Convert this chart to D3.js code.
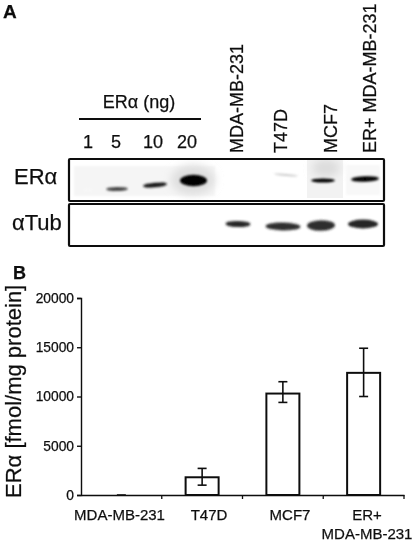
<!DOCTYPE html>
<html>
<head>
<meta charset="utf-8">
<script src="https://cdn.jsdelivr.net/npm/d3@7"></script>
<style>
  html, body { margin: 0; padding: 0; background: #fff; }
  svg { display: block; }
  text { font-family: "Liberation Sans", Arial, sans-serif; fill: #111; stroke: #111; stroke-width: 0.25px; }
</style>
</head>
<body>
<div id="chart"></div>
<script>
// bar chart values (panel B)
var cellLines = ["MDA-MB-231", "T47D", "MCF7", "ER+ MDA-MB-231"];
var erValues = [0, 1800, 10300, 12400];
var errLow = [0, 1000, 9400, 10000];
var errHigh = [0, 2700, 11500, 14900];
var yTicks = [0, 5000, 10000, 15000, 20000];

// blot lanes (panel A), band darkness
var doseLabels = ["1", "5", "10", "20"];
var blotLanes = ["1", "5", "10", "20", "MDA-MB-231", "T47D", "MCF7", "ER+ MDA-MB-231"];
var erBandDark = [0.03, 0.72, 0.92, 1, 0, 0.2, 0.98, 1];
var tubBandDark = [0, 0, 0, 0, 0.85, 0.82, 0.82, 0.85];

var width = 416;
var height = 545;

var svg = d3.select("#chart").append("svg").attr("width", width).attr("height", height);

var defs = svg.append("defs");
defs.append("filter").attr("id", "soft").append("feGaussianBlur").attr("stdDeviation", 0.45);
defs.append("filter").attr("id", "band")
  .attr("x", "-30%").attr("y", "-100%").attr("width", "160%").attr("height", "300%")
  .append("feGaussianBlur").attr("stdDeviation", 1.1);
defs.append("filter").attr("id", "smear")
  .attr("x", "-30%").attr("y", "-50%").attr("width", "160%").attr("height", "200%")
  .append("feGaussianBlur").attr("stdDeviation", 4);

var root = svg.append("g").attr("filter", "url(#soft)");

// panel letters
root.append("text").attr("x", 3).attr("y", 18).style("font-size", "19px").style("font-weight", "bold").text("A");
root.append("text").attr("x", 13).attr("y", 279).style("font-size", "18px").style("font-weight", "bold").text("B");

// ---------- panel A ----------
// lanes are not evenly spaced on the gel, so these are ordinal scales
var erX = d3.scaleOrdinal().domain(blotLanes).range([88, 117, 155, 193.5, 238, 286, 323, 365]);
var tubX = d3.scaleOrdinal().domain(blotLanes).range([88, 117, 155, 193, 238, 283, 321, 363]);
var erY = d3.scaleOrdinal().domain(blotLanes).range([190, 189, 185, 180.5, 180, 175, 180.5, 179]);
var tubY = d3.scaleOrdinal().domain(blotLanes).range([225, 225, 225, 225, 224, 226.5, 225.5, 224]);
var erRx = d3.scaleOrdinal().domain(blotLanes).range([6, 11, 12, 13.5, 0, 12, 12, 14]);
var erRy = d3.scaleOrdinal().domain(blotLanes).range([1.5, 2, 2.3, 5.8, 0, 0.9, 2.1, 2.8]);
var tubRx = d3.scaleOrdinal().domain(blotLanes).range([0, 0, 0, 0, 12.5, 17.5, 14, 15]);
var tubRy = d3.scaleOrdinal().domain(blotLanes).range([0, 0, 0, 0, 3.1, 3.9, 5.2, 4.4]);
var erTilt = d3.scaleOrdinal().domain(blotLanes).range([0, -1, -5, 0, 0, 5, 0, -2]);
var tubTilt = d3.scaleOrdinal().domain(blotLanes).range([0, 0, 0, 0, 1, 1, -1, 0]);
var bandGrey = d3.scaleLinear().domain([0, 1]).range(["#ffffff", "#000000"]);

var doseX = d3.scaleOrdinal().domain(doseLabels).range([88, 116, 153, 187]);
var laneLabelX = d3.scaleOrdinal().domain(cellLines).range([243, 287, 337, 376]);

root.append("text").attr("x", 139).attr("y", 108).attr("text-anchor", "middle").style("font-size", "18px").text("ERα (ng)");
root.append("line").attr("x1", 79).attr("x2", 201).attr("y1", 119).attr("y2", 119).attr("stroke", "#111").attr("stroke-width", 2);

root.selectAll(".dose")
  .data(doseLabels)
  .enter()
  .append("text")
  .attr("class", "dose")
  .attr("x", function (d) { return doseX(d); })
  .attr("y", 148)
  .attr("text-anchor", "middle")
  .style("font-size", "18px")
  .text(function (d) { return d; });

root.selectAll(".laneLabel")
  .data(cellLines)
  .enter()
  .append("text")
  .attr("class", "laneLabel")
  .attr("transform", function (d) { return "translate(" + laneLabelX(d) + ",153) rotate(-90)"; })
  .style("font-size", "18px")
  .text(function (d) { return d; });

// grey smears behind the bands
var blotClip = defs.append("clipPath").attr("id", "erClip");
blotClip.append("rect").attr("x", 69).attr("y", 160).attr("width", 315).attr("height", 40);
var smears = root.append("g").attr("clip-path", "url(#erClip)");
smears.append("rect").attr("x", 74).attr("y", 166).attr("width", 141).attr("height", 30).attr("fill", "#f5f5f5").attr("filter", "url(#band)");
smears.append("ellipse").attr("cx", 193).attr("cy", 180).attr("rx", 22).attr("ry", 15).attr("fill", "#dedede").attr("filter", "url(#smear)");
smears.append("rect").attr("x", 307).attr("y", 160).attr("width", 36).attr("height", 38).attr("fill", "#f2f2f2");
smears.append("ellipse").attr("cx", 326).attr("cy", 168).attr("rx", 14).attr("ry", 9).attr("fill", "#dcdcdc").attr("filter", "url(#smear)");
smears.append("rect").attr("x", 346).attr("y", 165).attr("width", 34).attr("height", 30).attr("fill", "#f8f8f8").attr("filter", "url(#band)");

function drawBands(cls, darks, xScale, yScale, rx, ry, tilt) {
  root.selectAll("." + cls)
    .data(blotLanes)
    .enter()
    .append("ellipse")
    .attr("class", cls)
    .attr("rx", function (d) { return rx(d); })
    .attr("ry", function (d) { return ry(d); })
    .attr("transform", function (d) {
      return "translate(" + xScale(d) + "," + yScale(d) + ") rotate(" + tilt(d) + ")";
    })
    .attr("fill", function (d, i) { return bandGrey(darks[i]); })
    .attr("filter", "url(#band)");
}
drawBands("erBand", erBandDark, erX, erY, erRx, erRy, erTilt);
drawBands("tubBand", tubBandDark, tubX, tubY, tubRx, tubRy, tubTilt);

// blot frames
[159, 204].forEach(function (top) {
  root.append("rect")
    .attr("x", 69).attr("y", top).attr("width", 315).attr("height", 42)
    .attr("fill", "none").attr("stroke", "#111").attr("stroke-width", 2.2).attr("rx", 1);
});

root.append("text").attr("x", 14).attr("y", 184).style("font-size", "22px").text("ERα");
root.append("text").attr("x", 12).attr("y", 230).style("font-size", "22px").text("αTub");

// ---------- panel B ----------
var x = d3.scaleBand().domain(cellLines).range([81, 404]).padding(0);
var y = d3.scaleLinear().domain([0, 20000]).range([495, 298]);
var barW = 33;

var yAxis = d3.axisLeft(y).tickValues(yTicks).tickSize(4).tickPadding(3).tickFormat(d3.format("d"));
var xAxis = d3.axisBottom(x).tickSize(0).tickFormat("");

var yG = root.append("g").attr("transform", "translate(81,0)").call(yAxis);
yG.selectAll("text").style("font-size", "13.8px").style("fill", "#111");
yG.selectAll("line,path").attr("stroke", "#111").attr("stroke-width", 1.4);

var xG = root.append("g").attr("transform", "translate(0,495)").call(xAxis);
xG.select("path").attr("stroke", "#111").attr("stroke-width", 1.7);

// x ticks sit on the category boundaries, not the centres
root.selectAll(".xTick")
  .data(cellLines)
  .enter()
  .append("line")
  .attr("class", "xTick")
  .attr("x1", function (d) { return x(d) + x.bandwidth(); })
  .attr("x2", function (d) { return x(d) + x.bandwidth(); })
  .attr("y1", 495)
  .attr("y2", 499)
  .attr("stroke", "#111")
  .attr("stroke-width", 1.3);

root.selectAll(".bar")
  .data(cellLines)
  .enter()
  .append("rect")
  .attr("class", "bar")
  .attr("x", function (d) { return x(d) + x.bandwidth() / 2 - barW / 2; })
  .attr("y", function (d, i) { return y(erValues[i]); })
  .attr("width", barW)
  .attr("height", function (d, i) { return 495 - y(erValues[i]); })
  .attr("fill", "#fff")
  .attr("stroke", "#111")
  .attr("stroke-width", 2);

// error bars
cellLines.forEach(function (d, i) {
  var cx = x(d) + x.bandwidth() / 2;
  if (errHigh[i] === errLow[i]) {
    root.append("line").attr("x1", cx - 4.5).attr("x2", cx + 4.5).attr("y1", y(0)).attr("y2", y(0)).attr("stroke", "#111").attr("stroke-width", 1.6);
    return;
  }
  root.append("line").attr("x1", cx).attr("x2", cx).attr("y1", y(errLow[i])).attr("y2", y(errHigh[i])).attr("stroke", "#111").attr("stroke-width", 1.6);
  [errLow[i], errHigh[i]].forEach(function (v) {
    root.append("line").attr("x1", cx - 4.5).attr("x2", cx + 4.5).attr("y1", y(v)).attr("y2", y(v)).attr("stroke", "#111").attr("stroke-width", 1.6);
  });
});

// labels are not centred on the bars in the original
var xLabelX = d3.scaleOrdinal().domain(cellLines).range([119.5, 209, 290, 367]);

root.selectAll(".xLabel")
  .data(cellLines)
  .enter()
  .append("text")
  .attr("class", "xLabel")
  .attr("x", function (d) { return xLabelX(d); })
  .attr("y", 520)
  .attr("text-anchor", "middle")
  .style("font-size", "15px")
  .text(function (d) { return d === "ER+ MDA-MB-231" ? "ER+" : d; });
root.append("text").attr("x", 367).attr("y", 539).attr("text-anchor", "middle").style("font-size", "15px").text("MDA-MB-231");

root.append("text")
  .attr("transform", "translate(21,498) rotate(-90)")
  .style("font-size", "22px")
  .text("ERα [fmol/mg protein]");
</script>
</body>
</html>
